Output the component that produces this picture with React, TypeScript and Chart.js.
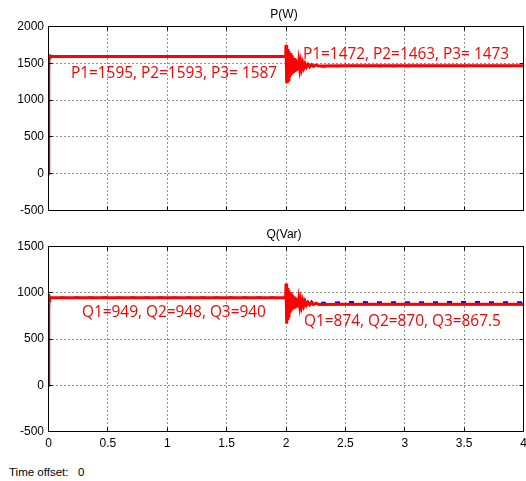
import { useEffect, useRef } from 'react';
import { Chart, registerables } from 'chart.js';

Chart.register(...registerables);

// time axis (s), shared by both scopes
const time = [
  0, 0.001, 0.003, 0.005, 0.008, 0.012, 0.018, 0.03, 0.5, 1, 1.5, 1.998,
  2.0, 2.004, 2.008, 2.012, 2.016, 2.02, 2.025, 2.03, 2.035, 2.04, 2.045, 2.05,
  2.056, 2.062, 2.068, 2.074, 2.08, 2.087, 2.094, 2.101, 2.108, 2.116, 2.124, 2.132,
  2.141, 2.15, 2.16, 2.172, 2.185, 2.2, 2.215, 2.232, 2.25, 2.28,
  2.5, 3, 3.5, 4,
];

// P(W)
const p1 = [
  0, 1600, 1380, 1620, 1560, 1600, 1590, 1592, 1592, 1592, 1592, 1592,
  1750, 1230, 1725, 1255, 1695, 1280, 1665, 1305, 1640, 1330, 1615, 1350,
  1592, 1368, 1572, 1383, 1556, 1395, 1535, 1410, 1522, 1422, 1512, 1432,
  1502, 1440, 1494, 1447, 1487, 1453, 1481, 1458, 1476, 1462,
  1468, 1467, 1468, 1467,
];
const p2 = [
  0, 1660, 1400, 1600, 1570, 1595, 1588, 1590, 1589, 1590, 1589, 1590,
  1735, 1245, 1710, 1270, 1680, 1292, 1652, 1316, 1628, 1338, 1605, 1357,
  1585, 1373, 1565, 1387, 1550, 1398, 1530, 1412, 1518, 1424, 1508, 1433,
  1499, 1440, 1490, 1444, 1484, 1443, 1478, 1450, 1470, 1455,
  1462, 1461, 1463, 1462,
];
const p3 = [
  0, 1620, 1390, 1610, 1565, 1590, 1585, 1587, 1587, 1587, 1587, 1587,
  1742, 1238, 1718, 1262, 1688, 1286, 1658, 1310, 1634, 1334, 1610, 1354,
  1588, 1370, 1568, 1385, 1553, 1397, 1532, 1411, 1520, 1423, 1510, 1433,
  1500, 1441, 1492, 1447, 1486, 1452, 1480, 1457, 1476, 1464,
  1473, 1472, 1473, 1472,
];

// Q(Var)
const q1 = [
  0, 990, 800, 965, 900, 955, 945, 947, 947, 947, 947, 947,
  1100, 665, 1075, 720, 1050, 750, 1025, 775, 1005, 795, 988, 810,
  972, 822, 958, 832, 946, 840, 936, 846, 927, 852, 919, 857,
  912, 861, 905, 865, 898, 868, 892, 871, 887, 874,
  877, 876, 877, 876,
];
const q2 = [
  0, 1005, 820, 955, 915, 950, 946, 948, 948, 948, 948, 948,
  1085, 680, 1060, 730, 1040, 760, 1015, 785, 998, 805, 982, 818,
  968, 830, 955, 840, 945, 848, 938, 855, 932, 862, 928, 868,
  922, 872, 916, 878, 912, 882, 908, 886, 904, 890,
  899, 898, 899, 898,
];
const q3 = [
  0, 980, 810, 960, 905, 945, 938, 940, 940, 940, 940, 940,
  1092, 672, 1068, 725, 1045, 755, 1020, 780, 1000, 800, 985, 814,
  970, 826, 956, 836, 944, 843, 934, 849, 925, 854, 917, 858,
  910, 861, 903, 864, 896, 866, 889, 868, 884, 867,
  868, 867, 868, 867,
];

const xTicks = [0, 0.5, 1, 1.5, 2, 2.5, 3, 3.5, 4];
const pTicks = [-500, 0, 500, 1000, 1500, 2000];
const qTicks = [-500, 0, 500, 1000, 1500];

const pNotes = [
  { text: 'P1=1595, P2=1593, P3= 1587', x: 0.189, y: 1307 },
  { text: 'P1=1472, P2=1463, P3= 1473', x: 2.143, y: 1562 },
];
const qNotes = [
  { text: 'Q1=949, Q2=948, Q3=940', x: 0.282, y: 741 },
  { text: 'Q1=874, Q2=870, Q3=867.5', x: 2.152, y: 637 },
];

const AXIS_FONT = '"Liberation Sans", Arial, sans-serif';
const NOTE_FONT = '15.4px "Open Sans", "Noto Sans", sans-serif';

type Note = { text: string; x: number; y: number };

function makeScopePlugin(title: string, yTicks: number[], notes: Note[]) {
  const snap = (v: number) => Math.round(v - 0.5) + 0.5;
  return {
    id: 'scope',
    beforeDatasetsDraw(chart: any) {
      const { ctx, chartArea: a, scales } = chart;
      const xs = scales.x;
      const ys = scales.y;
      ctx.save();
      ctx.strokeStyle = '#222';
      ctx.lineWidth = 1;
      ctx.setLineDash([1, 3]);
      ctx.beginPath();
      xTicks.forEach((v) => {
        const px = snap(xs.getPixelForValue(v));
        if (px > a.left + 2 && px < a.right - 2) {
          ctx.moveTo(px, a.top);
          ctx.lineTo(px, a.bottom);
        }
      });
      yTicks.forEach((v) => {
        const py = snap(ys.getPixelForValue(v));
        if (py > a.top + 2 && py < a.bottom - 2) {
          ctx.moveTo(a.left, py);
          ctx.lineTo(a.right, py);
        }
      });
      ctx.stroke();
      ctx.restore();
    },
    afterDatasetsDraw(chart: any) {
      const { ctx, chartArea: a, scales } = chart;
      const xs = scales.x;
      const ys = scales.y;
      ctx.save();
      // frame
      ctx.setLineDash([]);
      ctx.strokeStyle = '#000';
      ctx.lineWidth = 1;
      ctx.strokeRect(a.left, a.top, a.right - a.left, a.bottom - a.top);
      // inward tick marks
      const tl = 4;
      ctx.beginPath();
      xTicks.forEach((v) => {
        const px = snap(xs.getPixelForValue(v));
        ctx.moveTo(px, a.top);
        ctx.lineTo(px, a.top + tl);
        ctx.moveTo(px, a.bottom);
        ctx.lineTo(px, a.bottom - tl);
      });
      yTicks.forEach((v) => {
        const py = snap(ys.getPixelForValue(v));
        ctx.moveTo(a.left, py);
        ctx.lineTo(a.left + tl, py);
        ctx.moveTo(a.right, py);
        ctx.lineTo(a.right - tl, py);
      });
      ctx.stroke();
      // title
      ctx.fillStyle = '#000';
      ctx.font = `12px ${AXIS_FONT}`;
      ctx.textAlign = 'center';
      ctx.textBaseline = 'middle';
      ctx.fillText(title, (a.left + a.right) / 2 - 2, a.top - 12);
      // annotations
      ctx.fillStyle = '#ff0000';
      ctx.font = NOTE_FONT;
      ctx.textAlign = 'left';
      ctx.textBaseline = 'alphabetic';
      notes.forEach((n) => {
        ctx.fillText(n.text, xs.getPixelForValue(n.x), ys.getPixelForValue(n.y));
      });
      ctx.restore();
    },
  };
}

function buildConfig(
  title: string,
  series: number[][],
  names: string[],
  yTicks: number[],
  notes: Note[],
  showX: boolean,
  xHeight: number
): any {
  const colors = ['#ff0000', '#0000ff', '#ff00ff'];
  const widths = [3, 2, 1];
  const dashes = [[], [5, 9], []];
  const font = { family: AXIS_FONT, size: 12 };
  return {
    type: 'line',
    data: {
      datasets: series.map((s, i) => ({
        label: names[i],
        data: time.map((t, k) => ({ x: t, y: s[k] })),
        borderColor: colors[i],
        borderWidth: widths[i],
        borderDash: dashes[i],
        pointRadius: 0,
        tension: 0,
        fill: false,
      })),
    },
    options: {
      animation: false,
      responsive: false,
      events: [],
      layout: { padding: { top: 26.5, right: 2.5, bottom: 0, left: 0 } },
      plugins: {
        legend: { display: false },
        tooltip: { enabled: false },
        title: { display: false },
      },
      scales: {
        x: {
          type: 'linear',
          min: 0,
          max: 4,
          afterBuildTicks: (s: any) => {
            s.ticks = xTicks.map((v) => ({ value: v }));
          },
          ticks: {
            display: showX,
            font,
            color: '#000',
            padding: 5,
            maxRotation: 0,
            autoSkip: false,
            callback: (v: any) => String(v),
          },
          grid: { display: false, drawTicks: false },
          border: { display: false },
          afterFit: (s: any) => {
            s.height = xHeight;
            s.paddingLeft = 0;
            s.paddingRight = 0;
          },
        },
        y: {
          type: 'linear',
          min: yTicks[0],
          max: yTicks[yTicks.length - 1],
          afterBuildTicks: (s: any) => {
            s.ticks = yTicks.map((v) => ({ value: v }));
          },
          ticks: {
            font,
            color: '#000',
            padding: 4.5,
            autoSkip: false,
            callback: (v: any) => String(v),
          },
          grid: { display: false, drawTicks: false },
          border: { display: false },
          afterFit: (s: any) => {
            s.width = 48.5;
            s.paddingTop = 0;
            s.paddingBottom = 0;
          },
        },
      },
    },
    plugins: [makeScopePlugin(title, yTicks, notes)],
  };
}

export default function App() {
  const topRef = useRef<HTMLCanvasElement>(null);
  const botRef = useRef<HTMLCanvasElement>(null);

  useEffect(() => {
    const c1 = new Chart(
      topRef.current as HTMLCanvasElement,
      buildConfig('P(W)', [p1, p2, p3], ['P1', 'P2', 'P3'], pTicks, pNotes, false, 5.5)
    );
    const c2 = new Chart(
      botRef.current as HTMLCanvasElement,
      buildConfig('Q(Var)', [q1, q2, q3], ['Q1', 'Q2', 'Q3'], qTicks, qNotes, true, 28.5)
    );
    return () => {
      c1.destroy();
      c2.destroy();
    };
  }, []);

  return (
    <div
      style={{
        position: 'absolute',
        left: 0,
        top: 0,
        width: 526,
        height: 481,
        background: '#fff',
        overflow: 'hidden',
      }}
    >
      <canvas
        ref={topRef}
        width={526}
        height={216}
        style={{ position: 'absolute', left: 0, top: 0 }}
      />
      <canvas
        ref={botRef}
        width={526}
        height={240}
        style={{ position: 'absolute', left: 0, top: 220 }}
      />
      <div
        style={{
          position: 'absolute',
          left: 9,
          top: 466,
          fontFamily: AXIS_FONT,
          fontSize: 11.5,
          lineHeight: '12px',
          whiteSpace: 'pre',
          color: '#000',
        }}
      >
        {'Time offset:   0'}
      </div>
    </div>
  );
}
